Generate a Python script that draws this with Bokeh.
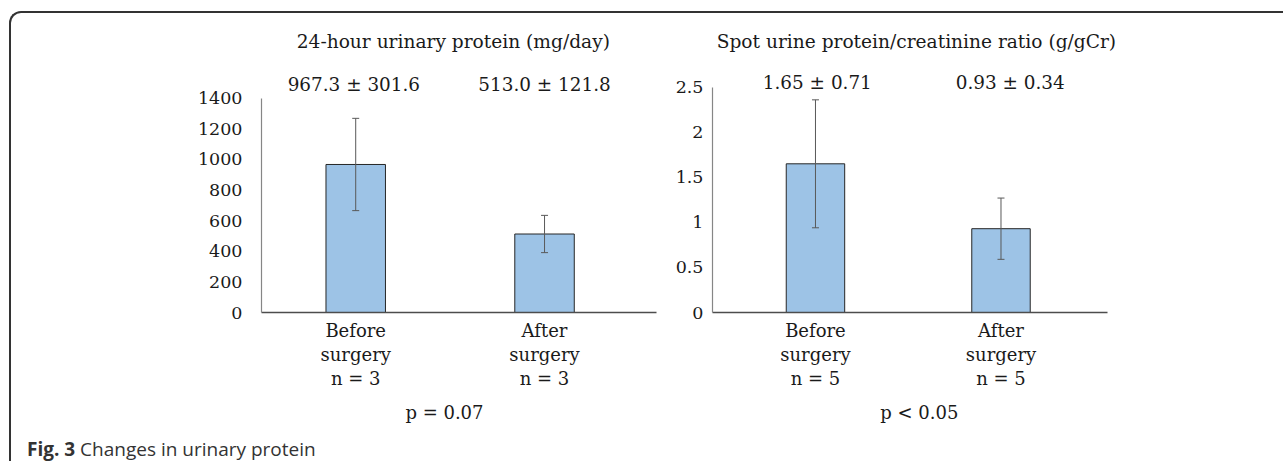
from bokeh.plotting import figure
from bokeh.models import (Range1d, ColumnDataSource, Whisker, TeeHead, Label, FixedTicker, Div,
                          LinearAxis)
from bokeh.layouts import row, column
from bokeh.embed import file_html
from bokeh.resources import INLINE

# ---------------- data ----------------
positions = [0, 1]
group_names = ["Before\nsurgery", "After\nsurgery"]

left_title = "24-hour urinary protein (mg/day)"
left_mean = [967.3, 513.0]
left_sd = [301.6, 121.8]
left_n = [3, 3]
left_ticks = [0, 200, 400, 600, 800, 1000, 1200, 1400]
left_p = "p = 0.07"

right_title = "Spot urine protein/creatinine ratio (g/gCr)"
right_mean = [1.65, 0.93]
right_sd = [0.71, 0.34]
right_n = [5, 5]
right_ticks = [0, 0.5, 1, 1.5, 2, 2.5]
right_tick_labels = ["0", "0.5", "1", "1.5", "2", "2.5"]
right_p = "p < 0.05"

caption_bold = "Fig. 3"
caption_text = "Changes in urinary protein"

SERIF = "DejaVu Serif"
TXT = "#1a1a1a"
BAR_FILL = "#9DC3E6"
BAR_LINE = "#262626"
ERR = "#595959"


def panel(width, height, bl, br, bb, xr, xbounds, yend, ticks, tick_labels, ystand,
          means, sds, ns, title, title_pos, ann_fmt, ann_x, ann_y, ptext, p_x):
    p = figure(width=width, height=height, x_range=Range1d(*xr), y_range=Range1d(0, yend),
               output_backend="svg", toolbar_location=None,
               min_border_left=bl, min_border_right=br, min_border_top=0, min_border_bottom=bb,
               outline_line_color=None, background_fill_color=None, border_fill_color=None)
    p.xgrid.grid_line_color = None
    p.ygrid.grid_line_color = None

    # y axis
    ya = p.yaxis[0]
    ya.ticker = FixedTicker(ticks=ticks)
    ya.major_label_overrides = {t: l for t, l in zip(ticks, tick_labels)}
    ya.bounds = (0, ticks[-1])
    ya.major_tick_line_color = None
    ya.minor_tick_line_color = None
    ya.major_label_standoff = ystand
    ya.axis_line_color = "#868686"
    ya.axis_line_width = 1.2
    ya.major_label_text_font = SERIF
    ya.major_label_text_font_size = "17.5px"
    ya.major_label_text_color = TXT

    # x axis (group labels)
    xa = p.xaxis[0]
    xa.ticker = FixedTicker(ticks=positions)
    xa.bounds = xbounds
    xa.major_label_overrides = {pos: f"{g}\nn = {n}" for pos, g, n in zip(positions, group_names, ns)}
    xa.major_tick_line_color = None
    xa.minor_tick_line_color = None
    xa.major_label_standoff = 1
    xa.axis_line_color = "#4d4d4d"
    xa.axis_line_width = 1.4
    xa.major_label_text_font = SERIF
    xa.major_label_text_font_size = "18px"
    xa.major_label_text_color = TXT
    xa.major_label_text_line_height = 1.15

    # second axis below: p-value text
    pa = LinearAxis(ticker=FixedTicker(ticks=[p_x]), major_label_overrides={p_x: ptext},
                    axis_line_color=None, major_tick_line_color=None, minor_tick_line_color=None,
                    major_label_standoff=4, major_label_text_font=SERIF,
                    major_label_text_font_size="18px", major_label_text_color=TXT)
    p.add_layout(pa, "below")

    p.vbar(x=positions, top=means, bottom=0, width=0.315,
           fill_color=BAR_FILL, line_color=BAR_LINE, line_width=1)

    src = ColumnDataSource(dict(x=positions,
                                upper=[m + s for m, s in zip(means, sds)],
                                lower=[m - s for m, s in zip(means, sds)]))
    w = Whisker(base="x", upper="upper", lower="lower", source=src,
                line_color=ERR, line_width=1, level="overlay",
                upper_head=TeeHead(size=7, line_color=ERR, line_width=1),
                lower_head=TeeHead(size=7, line_color=ERR, line_width=1))
    p.add_layout(w)

    p.add_layout(Label(x=title_pos[0], y=title_pos[1], text=title, text_align="center",
                       text_baseline="middle", text_font=SERIF, text_font_size="18.6px",
                       text_color=TXT))
    for ax, m, s in zip(ann_x, means, sds):
        p.add_layout(Label(x=ax, y=ann_y, text=ann_fmt.format(m, s), text_align="center",
                           text_baseline="middle", text_font=SERIF, text_font_size="18.4px",
                           text_color=TXT))
    return p


left = panel(649, 417, 250, 4, 117, (-0.499, 1.593), (-0.499, 1.593), 1954, left_ticks,
             [str(t) for t in left_ticks], 13,
             left_mean, left_sd, left_n, left_title, (0.517, 1772),
             "{:.1f} \u00b1 {:.1f}", [-0.01, 1.0], 1492, left_p, 0.47)

right = panel(615, 417, 52, 145, 118, (-0.555, 1.698), (-0.555, 1.574), 3.318, right_ticks,
              right_tick_labels, 3,
              right_mean, right_sd, right_n, right_title, (0.544, 3.008),
              "{:.2f} \u00b1 {:.2f}", [0.01, 1.05], 2.553, right_p, 0.56)

cap = Div(text=('<div style="font-family:\'Open Sans\'; font-size:19px; line-height:19px; '
                'color:#333333; white-space:nowrap; position:relative; top:5px; left:11px;">'
                f'<b>{caption_bold}</b> {caption_text}</div>'),
          width=1264, height=23, styles={"overflow": "visible"})

layout = column(row(left, right), cap, margin=(11, 0, 0, 9),
                styles={"border-top": "2px solid #333333", "border-left": "2px solid #333333",
                        "border-top-left-radius": "12px", "overflow": "visible"})

open("out.html", "w").write(file_html(layout, INLINE))
